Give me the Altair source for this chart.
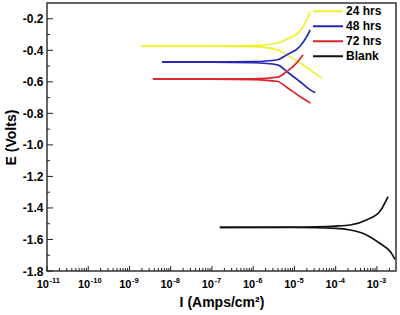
import altair as alt
import pandas as pd

FONT = "Liberation Sans"

series_names = ["24 hrs", "48 hrs", "72 hrs", "Blank"]
series_colors = ["#f2ef2e", "#2626b4", "#d9262b", "#111111"]

# 24 hrs
i24_up = [1.9e-9, 1e-7, 1e-6, 3.9e-6, 6.5e-6, 1.35e-5, 2.0e-5, 2.4e-5]
e24_up = [-0.373, -0.373, -0.371, -0.354, -0.329, -0.280, -0.206, -0.154]
i24_dn = [1.9e-9, 1e-7, 1e-6, 3.9e-6, 6.5e-6, 1.6e-5, 4.2e-5, 4.6e-5]
e24_dn = [-0.373, -0.373, -0.377, -0.397, -0.429, -0.492, -0.570, -0.577]
# 48 hrs
i48_up = [6.2e-9, 1e-7, 1e-6, 3.9e-6, 6.5e-6, 1.35e-5, 2.0e-5, 2.4e-5]
e48_up = [-0.475, -0.475, -0.472, -0.460, -0.429, -0.376, -0.312, -0.270]
i48_dn = [6.2e-9, 1e-7, 1e-6, 3.9e-6, 6.5e-6, 1.35e-5, 2.4e-5, 3.2e-5]
e48_dn = [-0.475, -0.475, -0.479, -0.492, -0.535, -0.598, -0.651, -0.668]
# 72 hrs
i72_up = [3.7e-9, 1e-7, 1e-6, 3.9e-6, 6.5e-6, 1.12e-5, 1.6e-5]
e72_up = [-0.583, -0.583, -0.581, -0.570, -0.535, -0.481, -0.429]
i72_dn = [3.7e-9, 1e-7, 1e-6, 3.9e-6, 6.5e-6, 1.35e-5, 2.45e-5]
e72_dn = [-0.583, -0.583, -0.586, -0.598, -0.634, -0.693, -0.735]
# Blank
ib_up = [1.55e-7, 1e-5, 1e-4, 2.24e-4, 5.6e-4, 1.17e-3, 1.86e-3]
eb_up = [-1.523, -1.522, -1.515, -1.508, -1.476, -1.423, -1.328]
ib_dn = [1.55e-7, 1e-5, 1e-4, 2.24e-4, 5.6e-4, 1.17e-3, 2.1e-3, 2.75e-3]
eb_dn = [-1.523, -1.524, -1.530, -1.540, -1.571, -1.624, -1.677, -1.726]

x_major = [1e-11, 1e-10, 1e-9, 1e-8, 1e-7, 1e-6, 1e-5, 1e-4, 1e-3]
x_exponents = ["-11", "-10", "-9", "-8", "-7", "-6", "-5", "-4", "-3"]
minor_mult = [2, 3, 4, 5, 6, 7, 8, 9]
y_major = [-1.8, -1.6, -1.4, -1.2, -1.0, -0.8, -0.6, -0.4, -0.2]
y_minor = [-1.7, -1.5, -1.3, -1.1, -0.9, -0.7, -0.5, -0.3]

X_MAX = 2.9e-3

rows = []
def add(name, branch, xs, ys):
    for k, (a, b) in enumerate(zip(xs, ys)):
        rows.append({"series": name, "branch": branch, "k": k, "I": a, "E": b})

add("24 hrs", "up", i24_up, e24_up)
add("24 hrs", "dn", i24_dn, e24_dn)
add("48 hrs", "up", i48_up, e48_up)
add("48 hrs", "dn", i48_dn, e48_dn)
add("72 hrs", "up", i72_up, e72_up)
add("72 hrs", "dn", i72_dn, e72_dn)
add("Blank", "up", ib_up, eb_up)
add("Blank", "dn", ib_dn, eb_dn)
df = pd.DataFrame(rows)

x_minor = [m * d for d in x_major for m in minor_mult if m * d < X_MAX]

xscale = alt.Scale(type="log", domain=[1e-11, X_MAX], nice=False)
yscale = alt.Scale(domain=[-1.8, -0.1], nice=False, zero=False)

xaxis = alt.Axis(values=x_major, labels=False, title="I (Amps/cm²)",
                 ticks=False, domain=False, grid=False, titlePadding=24)
yaxis = alt.Axis(values=y_major, labelExpr="replace(format(datum.value, '.1f'), '−', '-')",
                 title="E (Volts)", ticks=False, domain=False, grid=False,
                 labelPadding=4, titlePadding=4, labelOverlap=False)

def X(field="I:Q"):
    return alt.X(field, scale=xscale, axis=xaxis)

def Y(field="E:Q"):
    return alt.Y(field, scale=yscale, axis=yaxis)

lines = alt.Chart(df).mark_line(strokeWidth=1.7, interpolate="monotone", clip=True).encode(
    x=X(), y=Y(),
    color=alt.Color("series:N", scale=alt.Scale(domain=series_names, range=series_colors),
                    legend=alt.Legend(title=None, orient="none", legendX=265, legendY=1,
                                      symbolType="stroke", symbolSize=900, symbolStrokeWidth=2,
                                      labelFontSize=12, labelFont=FONT, labelFontWeight="bold",
                                      labelColor="black", clipHeight=14.7, padding=0,
                                      labelOffset=2, rowPadding=0)),
    detail="branch:N",
    order="k:Q",
)

ymaj = alt.Chart(pd.DataFrame({"E": y_major})).mark_rule(color="#222", strokeWidth=1).encode(
    y=Y(), x=alt.value(0), x2=alt.value(6))
ymin = alt.Chart(pd.DataFrame({"E": y_minor})).mark_rule(color="#222", strokeWidth=1).encode(
    y=Y(), x=alt.value(0), x2=alt.value(3))
xmaj = alt.Chart(pd.DataFrame({"I": x_major})).mark_rule(color="#222", strokeWidth=1).encode(
    x=X(), y=alt.value(268), y2=alt.value(263))
xmin = alt.Chart(pd.DataFrame({"I": x_minor})).mark_rule(color="#222", strokeWidth=1).encode(
    x=X(), y=alt.value(268), y2=alt.value(265))

lab_df = pd.DataFrame({"I": x_major, "exp": x_exponents, "base": ["10"] * len(x_major)})
xbase = alt.Chart(lab_df).mark_text(
    font=FONT, fontWeight="bold", fontSize=11, color="black", align="right",
    baseline="alphabetic", dx=2).encode(
    x=X(), y=alt.value(284.7), text="base:N")
xexp = alt.Chart(lab_df).mark_text(
    font=FONT, fontWeight="bold", fontSize=7.5, color="black", align="left",
    baseline="alphabetic", dx=2.5).encode(
    x=X(), y=alt.value(279.7), text="exp:N")

chart = alt.layer(lines, ymaj, ymin, xmaj, xmin, xbase, xexp).properties(
    width=349, height=268,
    padding={"left": 47, "top": 3, "right": 4, "bottom": 44},
    autosize="none",
    background="white",
).configure_view(
    stroke="#333", strokeWidth=1.5
).configure_axis(
    labelFont=FONT, labelFontWeight="bold", labelFontSize=12, labelColor="black",
    titleFont=FONT, titleFontWeight="bold", titleFontSize=14, titleColor="black",
)

chart.save("out.html", embed_options={"renderer": "svg", "actions": False})
